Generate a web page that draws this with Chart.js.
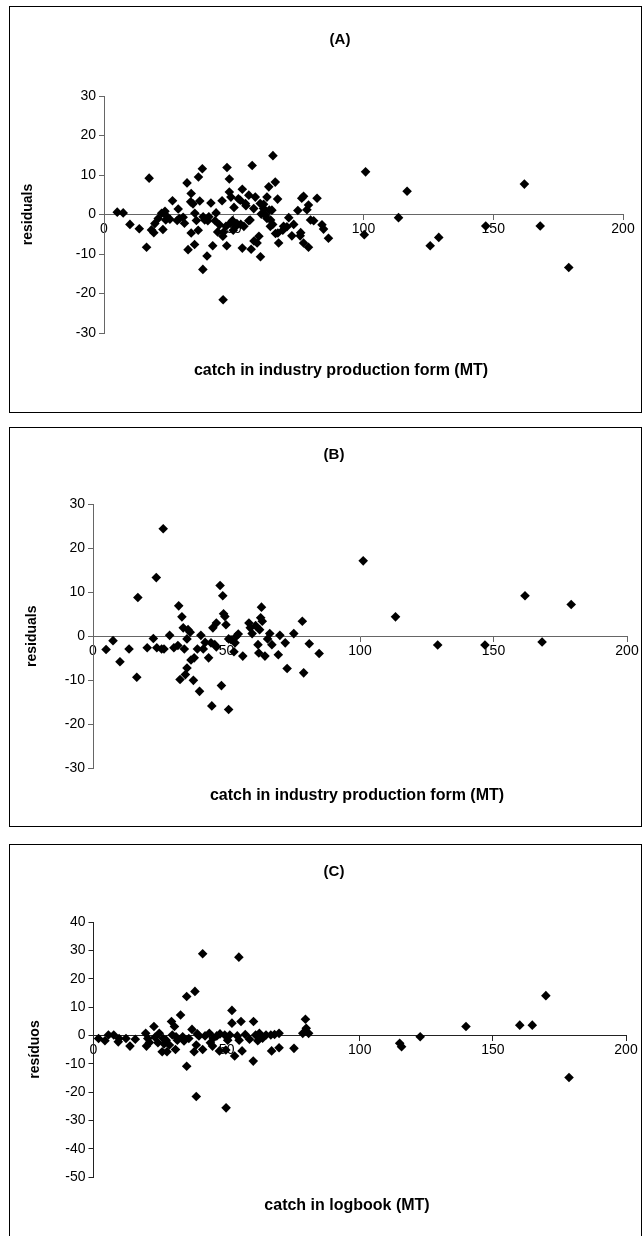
<!DOCTYPE html>
<html>
<head>
<meta charset="utf-8">
<script src="https://cdn.jsdelivr.net/npm/chart.js@4.4.0/dist/chart.umd.min.js"></script>
<style>
  body { margin: 0; background: #fff; width: 644px; height: 1236px; position: relative; overflow: hidden;
         font-family: "Liberation Sans", Arial, sans-serif; color: #000; }
  .panel { position: absolute; left: 9px; width: 631px; border: 1px solid #000; background: #fff; }
  .panel canvas { position: absolute; left: 0; top: 0; }
  .txt { position: absolute; transform: translate(-50%, -50%); white-space: nowrap; font-weight: bold; font-size: 15px; }
  .xt { font-size: 16px; }
</style>
</head>
<body>

<div class="panel" style="top:6px;height:405px"><canvas id="chartA" width="631" height="405"></canvas></div>
<div class="panel" style="top:427px;height:398px"><canvas id="chartB" width="631" height="398"></canvas></div>
<div class="panel" style="top:844px;height:400px"><canvas id="chartC" width="631" height="400"></canvas></div>

<div class="txt" style="left:340px;top:38px">(A)</div>
<div class="txt xt" style="left:341px;top:370px">catch in industry production form (MT)</div>
<div class="txt" style="left:334px;top:453px">(B)</div>
<div class="txt xt" style="left:357px;top:795px">catch in industry production form (MT)</div>
<div class="txt" style="left:334px;top:870px">(C)</div>
<div class="txt xt" style="left:347px;top:1205px">catch in logbook (MT)</div>

<script>
// ---- data ----
const xTicks = [0, 50, 100, 150, 200];
const yTicksAB = [-30, -20, -10, 0, 10, 20, 30];
const yTicksC = [-50, -40, -30, -20, -10, 0, 10, 20, 30, 40];

// (A) residuals vs catch in industry production form
const catchA = [5.1, 7.4, 10.0, 13.6, 17.4, 16.4, 18.3, 19.2, 19.6, 20.9, 22.2, 22.7, 23.5, 23.8, 24.1, 25.4,
  26.4, 28.2, 28.6, 29.0, 30.5, 31.0, 32.0, 32.4, 33.4, 33.6, 33.6, 34.3, 34.9, 35.0, 35.6, 36.3, 36.4, 36.9,
  37.9, 38.1, 38.2, 38.8, 39.7, 40.0, 40.4, 41.2, 41.9, 42.8, 43.2, 43.8, 44.5, 45.5, 45.8, 45.9, 46.0, 47.0,
  47.4, 47.3, 48.3, 48.3, 48.6, 48.9, 49.5, 49.8, 50.1, 50.8, 51.2, 51.8, 52.5, 52.7, 53.3, 53.3, 53.9, 54.5,
  54.7, 55.8, 55.8, 56.3, 56.7, 57.1, 57.7, 57.8, 58.3, 59.0, 59.7, 60.2, 60.3, 60.6, 61.5, 61.5, 62.2, 62.8,
  62.8, 63.5, 63.7, 64.1, 64.2, 64.7, 65.0, 65.1, 66.0, 66.1, 66.9, 67.0, 67.3, 68.9, 69.2, 70.5, 71.2, 72.4,
  73.1, 74.7, 75.6, 75.8, 76.2, 76.9, 76.9, 78.2, 78.8, 78.8, 79.6, 80.8, 82.1, 84.0, 84.6, 86.5,
  100.3, 100.8, 113.5, 116.8, 125.7, 129.0, 147.1, 162.0, 168.1, 179.1];
const residA = [0.6, 0.4, -2.5, -3.6, 9.2, -8.3, -3.9, -4.6, -2.3, -1.0, 0.3, -3.8, 0.8, -1.4, -0.4, -1.2,
  3.5, -1.5, 1.4, -1.0, -0.7, -2.2, 8.0, -8.9, 3.2, 5.3, -4.7, 2.7, -7.6, 0.3, -1.5, -4.0, 9.5, 3.4,
  11.6, -13.9, -0.6, -1.4, -10.5, -1.6, -0.6, 2.9, -7.9, -1.6, 0.4, -4.4, -2.6, 3.5, -5.5, -21.6, -4.5, -3.0,
  11.9, -7.9, 9.0, 5.7, -2.2, 4.4, -1.5, -4.0, 1.8, -3.0, -2.3, 4.0, 3.6, -2.5, 6.4, -8.5, -3.0, 2.8,
  2.2, 4.9, -1.6, -1.4, -8.8, 12.4, 1.5, -6.7, 4.4, -7.2, -5.5, 2.8, -10.7, 0.1, 2.6, 1.5, -0.2, 4.4,
  -1.0, 7.0, 1.1, -3.0, -1.4, 1.1, -2.5, 14.9, 8.2, -4.8, 3.9, -4.7, -7.2, -4.0, -3.0, -3.1, -0.8, -5.4,
  -2.5, 1.0, -5.4, -4.6, 4.1, -7.2, 4.6, 1.2, 2.4, -8.3, -1.4, -1.6, 4.1, -2.6, -3.7, -6.0,
  -5.1, 10.8, -0.8, 5.9, -7.9, -5.8, -2.9, 7.7, -2.9, -13.4];

// (B) residuals vs catch in industry production form
const catchB = [4.9, 7.5, 10.1, 13.5, 16.8, 16.4, 20.3, 22.6, 23.7, 23.9, 25.7, 26.3, 26.6, 28.7, 30.3, 31.8,
  32.1, 32.6, 33.3, 33.8, 34.2, 34.6, 35.2, 35.2, 35.6, 36.4, 36.7, 37.6, 37.9, 39.1, 39.9, 40.4, 41.3, 42.0,
  43.3, 44.2, 44.5, 44.9, 45.6, 46.2, 46.2, 47.6, 48.1, 48.6, 48.9, 49.4, 49.8, 50.8, 50.8, 51.7, 52.8, 53.2,
  53.7, 54.4, 56.1, 58.4, 58.9, 59.6, 60.9, 61.8, 62.1, 62.4, 62.8, 63.1, 63.4, 64.4, 65.4, 66.2, 67.0, 69.4,
  70.0, 72.0, 72.7, 75.2, 78.4, 78.9, 81.0, 84.7, 101.2, 113.3, 129.1, 146.8, 161.8, 168.2, 179.1];
const residB = [-3.0, -1.0, -5.8, -2.9, 8.8, -9.3, -2.6, -0.5, 13.3, -2.6, -2.9, 24.4, -2.9, 0.2, -2.6, -2.1,
  6.9, -9.8, 4.4, 1.9, -2.9, -8.7, -7.2, -0.6, 1.5, 0.9, -5.4, -10.0, -4.9, -2.9, -12.5, 0.2, -2.9, -1.4,
  -4.9, -1.5, -15.8, 1.9, -1.9, -2.4, 3.0, 11.5, -11.2, 9.2, 5.1, 4.5, 2.6, -0.6, -16.6, -0.8, -3.5, -1.5,
  0.0, 0.5, -4.5, 3.0, 1.9, 0.6, 2.4, -1.9, -3.8, 1.5, 4.2, 6.6, 3.4, -4.5, -0.6, 0.6, -1.9, -4.2,
  0.2, -1.5, -7.3, 0.6, 3.4, -8.3, -1.7, -3.9, 17.1, 4.4, -2.0, -2.0, 9.2, -1.3, 7.2];

// (C) residuos vs catch in logbook
const catchC = [1.9, 4.3, 5.6, 7.6, 9.3, 9.6, 12.2, 13.7, 15.7, 19.6, 19.9, 20.4, 21.0, 22.7, 23.1, 24.2,
  24.7, 25.8, 26.2, 26.5, 27.3, 27.6, 28.5, 29.3, 29.6, 30.4, 30.8, 31.0, 31.5, 32.7, 33.5, 34.0, 35.0, 35.0,
  35.8, 37.0, 37.8, 38.1, 38.6, 38.6, 39.0, 39.6, 41.0, 41.0, 41.9, 43.5, 43.9, 44.7, 45.0, 46.3, 47.3, 47.5,
  49.3, 49.7, 49.8, 50.4, 51.2, 52.0, 52.0, 53.0, 54.0, 54.6, 54.7, 55.4, 55.8, 57.0, 58.6, 60.0, 60.1, 60.9,
  61.7, 62.3, 63.5, 64.8, 66.6, 66.9, 68.0, 69.7, 69.7, 75.3, 78.6, 79.6, 79.9, 80.8,
  115.0, 115.7, 122.7, 139.9, 160.1, 164.8, 169.9, 178.6];
const residC = [-1.1, -1.9, 0.1, 0.1, -2.3, -1.1, -1.1, -3.8, -1.4, 0.7, -3.8, -1.1, -2.5, 3.1, -0.7, -2.6,
  0.7, -5.8, -1.1, -3.0, -1.7, -5.8, -3.4, 4.9, 0.1, 3.1, -5.0, -0.5, -1.7, 7.2, -0.5, -2.0, 13.7, -10.9,
  -1.1, 2.1, -5.8, 15.5, -21.6, -3.4, 0.5, -0.2, 28.8, -5.0, -0.2, 0.7, -2.6, -3.8, -1.0, -0.2, -5.5, 0.5,
  0.1, -5.2, -25.6, -1.7, 0.1, 8.8, 4.3, -7.3, -0.2, 27.6, -1.7, 4.9, -5.5, 0.3, -1.4, -9.1, 4.9, 0.1,
  -1.9, 0.7, -1.0, 0.1, 0.1, -5.5, 0.3, -4.4, 0.7, -4.6, 0.7, 5.7, 2.5, 0.7,
  -2.8, -4.0, -0.5, 3.1, 3.6, 3.6, 14.0, -14.9];

const FONT = "'Liberation Sans', Arial, sans-serif";

function makeChart(id, xs, ys, yTicks, yTitle, pad, axisW, titlePad, axisColor) {
  const points = xs.map((x, i) => ({ x, y: ys[i] }));
  return new Chart(document.getElementById(id), {
    type: "scatter",
    data: {
      datasets: [{
        data: points,
        pointStyle: "rectRot",
        pointRadius: 4.8,
        pointBorderWidth: 0,
        backgroundColor: "#000",
        borderColor: "#000"
      }]
    },
    options: {
      responsive: false,
      animation: false,
      devicePixelRatio: 1,
      events: [],
      layout: { padding: { left: 0, top: pad.top, right: pad.right, bottom: pad.bottom } },
      plugins: { legend: { display: false }, tooltip: { enabled: false } },
      scales: {
        x: {
          type: "linear",
          position: { y: 0 },
          min: xTicks[0],
          max: xTicks[xTicks.length - 1],
          ticks: { stepSize: xTicks[1] - xTicks[0], color: "#000", font: { family: FONT, size: 14 }, padding: 1, maxRotation: 0 },
          grid: { drawOnChartArea: false, tickLength: 5, color: axisColor },
          border: { color: axisColor, width: 1 },
          afterFit: s => { s.paddingLeft = 0; s.paddingRight = 0; s.paddingTop = 0; s.paddingBottom = 0; }
        },
        y: {
          type: "linear",
          min: yTicks[0],
          max: yTicks[yTicks.length - 1],
          ticks: { stepSize: yTicks[1] - yTicks[0], color: "#000", font: { family: FONT, size: 14 }, padding: 3 },
          grid: { drawOnChartArea: false, tickLength: 5, color: axisColor },
          border: { color: axisColor, width: 1 },
          title: { display: true, text: yTitle, color: "#000", font: { family: FONT, size: 14, weight: "bold" },
                   padding: { top: titlePad, bottom: 0 } },
          afterFit: s => { s.width = axisW; s.paddingTop = 0; s.paddingBottom = 0; s.paddingLeft = 0; s.paddingRight = 0; }
        }
      }
    }
  });
}

makeChart("chartA", catchA, residA, yTicksAB, "residuals", { top: 89, right: 18, bottom: 79 }, 94, 10, "#666");
makeChart("chartB", catchB, residB, yTicksAB, "residuals", { top: 76, right: 14, bottom: 57.5 }, 83, 14, "#666");
makeChart("chartC", catchC, residC, yTicksC, "resíduos", { top: 77, right: 15, bottom: 68 }, 83.5, 17, "#222");
</script>
</body>
</html>
